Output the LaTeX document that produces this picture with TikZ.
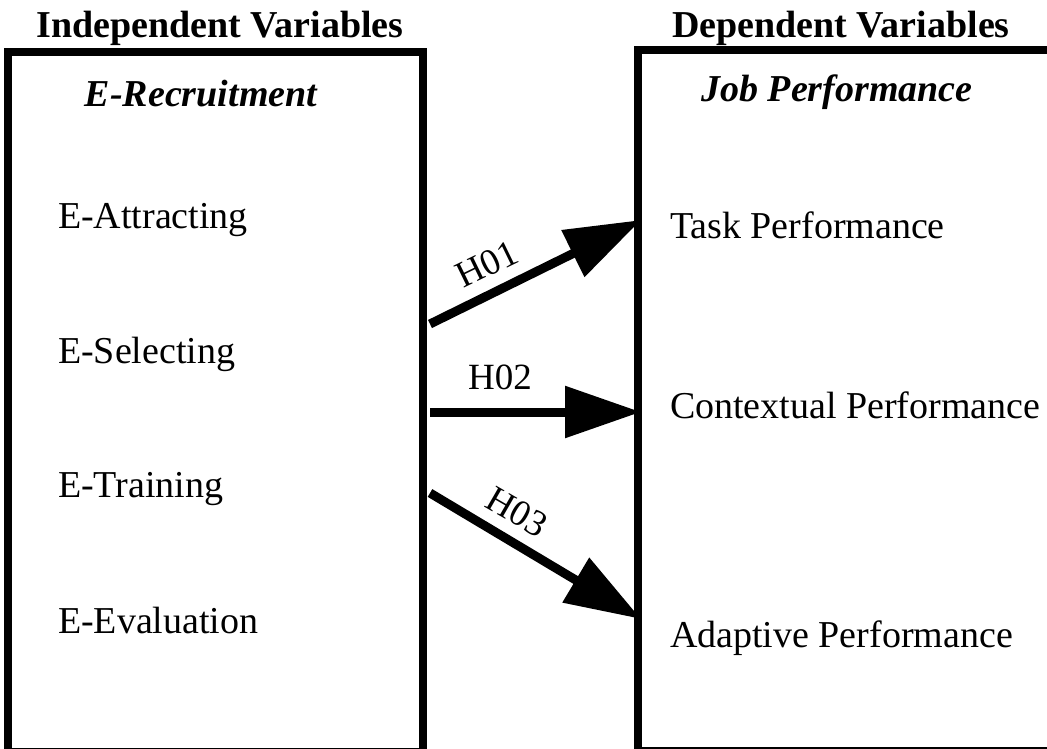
\documentclass[tikz,border=0pt]{standalone}
\usepackage{fontspec}
\setmainfont{Liberation Serif}
\usetikzlibrary{arrows.meta}
\begin{document}
\begin{tikzpicture}[x=1pt,y=-1pt,
  every node/.style={inner sep=0pt,outer sep=0pt},
  titletxt/.style={font=\fontsize{38}{45}\selectfont\bfseries, anchor=base},
  headtxt/.style={font=\fontsize{38}{45}\selectfont\bfseries\itshape, anchor=base},
  itemtxt/.style={font=\fontsize{38}{45}\selectfont, anchor=base west},
  boxline/.style={draw=black, line width=8.5pt},
  hyp/.style={line width=9pt, -{Triangle[length=76pt,width=50pt]}},
  hyplabel/.style={font=\fontsize{37}{44}\selectfont}
]
\useasboundingbox (0,0) rectangle (1047,749);
\fill[white] (0,0) rectangle (1047,749);

% boxes
\node[boxline, anchor=north west, minimum width=415pt, minimum height=700pt] (L) at (8,52) {};
\node[boxline, anchor=north west, minimum width=430pt, minimum height=701pt] (R) at (638,50) {};

% titles
\node[titletxt] (tL) at (220,38) {Independent Variables};
\node[titletxt] (tR) at (841,38) {Dependent Variables};
\node[headtxt] (hL) at (201,107) {E-Recruitment};
\node[headtxt] (hR) at (837,102) {Job Performance};

% left items
\node[itemtxt] (e1) at (58,228) {E-Attracting};
\node[itemtxt] (e2) at (58,363) {E-Selecting};
\node[itemtxt] (e3) at (58,497) {E-Training};
\node[itemtxt] (e4) at (58,633) {E-Evaluation};

% right items
\node[itemtxt] (r1) at (670,238) {Task Performance};
\node[itemtxt] (r2) at (670,418) {Contextual Performance};
\node[itemtxt] (r3) at (670,647) {Adaptive Performance};

% connector end points on the box borders
\coordinate (s1) at (430,324);
\coordinate (t1) at (641,220);
\coordinate (s2) at (430,412);
\coordinate (t2) at (641,412);
\coordinate (s3) at (430,493);
\coordinate (t3) at (641,619);

\draw[hyp] (s1) -- (t1);
\draw[hyp] (s2) -- (t2);
\draw[hyp] (s3) -- (t3);

\node[hyplabel, rotate=26] (l1) at (487,264) {H01};
\node[hyplabel] (l2) at (500,377) {H02};
\node[hyplabel, rotate=-30] (l3) at (517,512) {H03};
\end{tikzpicture}
\end{document}
